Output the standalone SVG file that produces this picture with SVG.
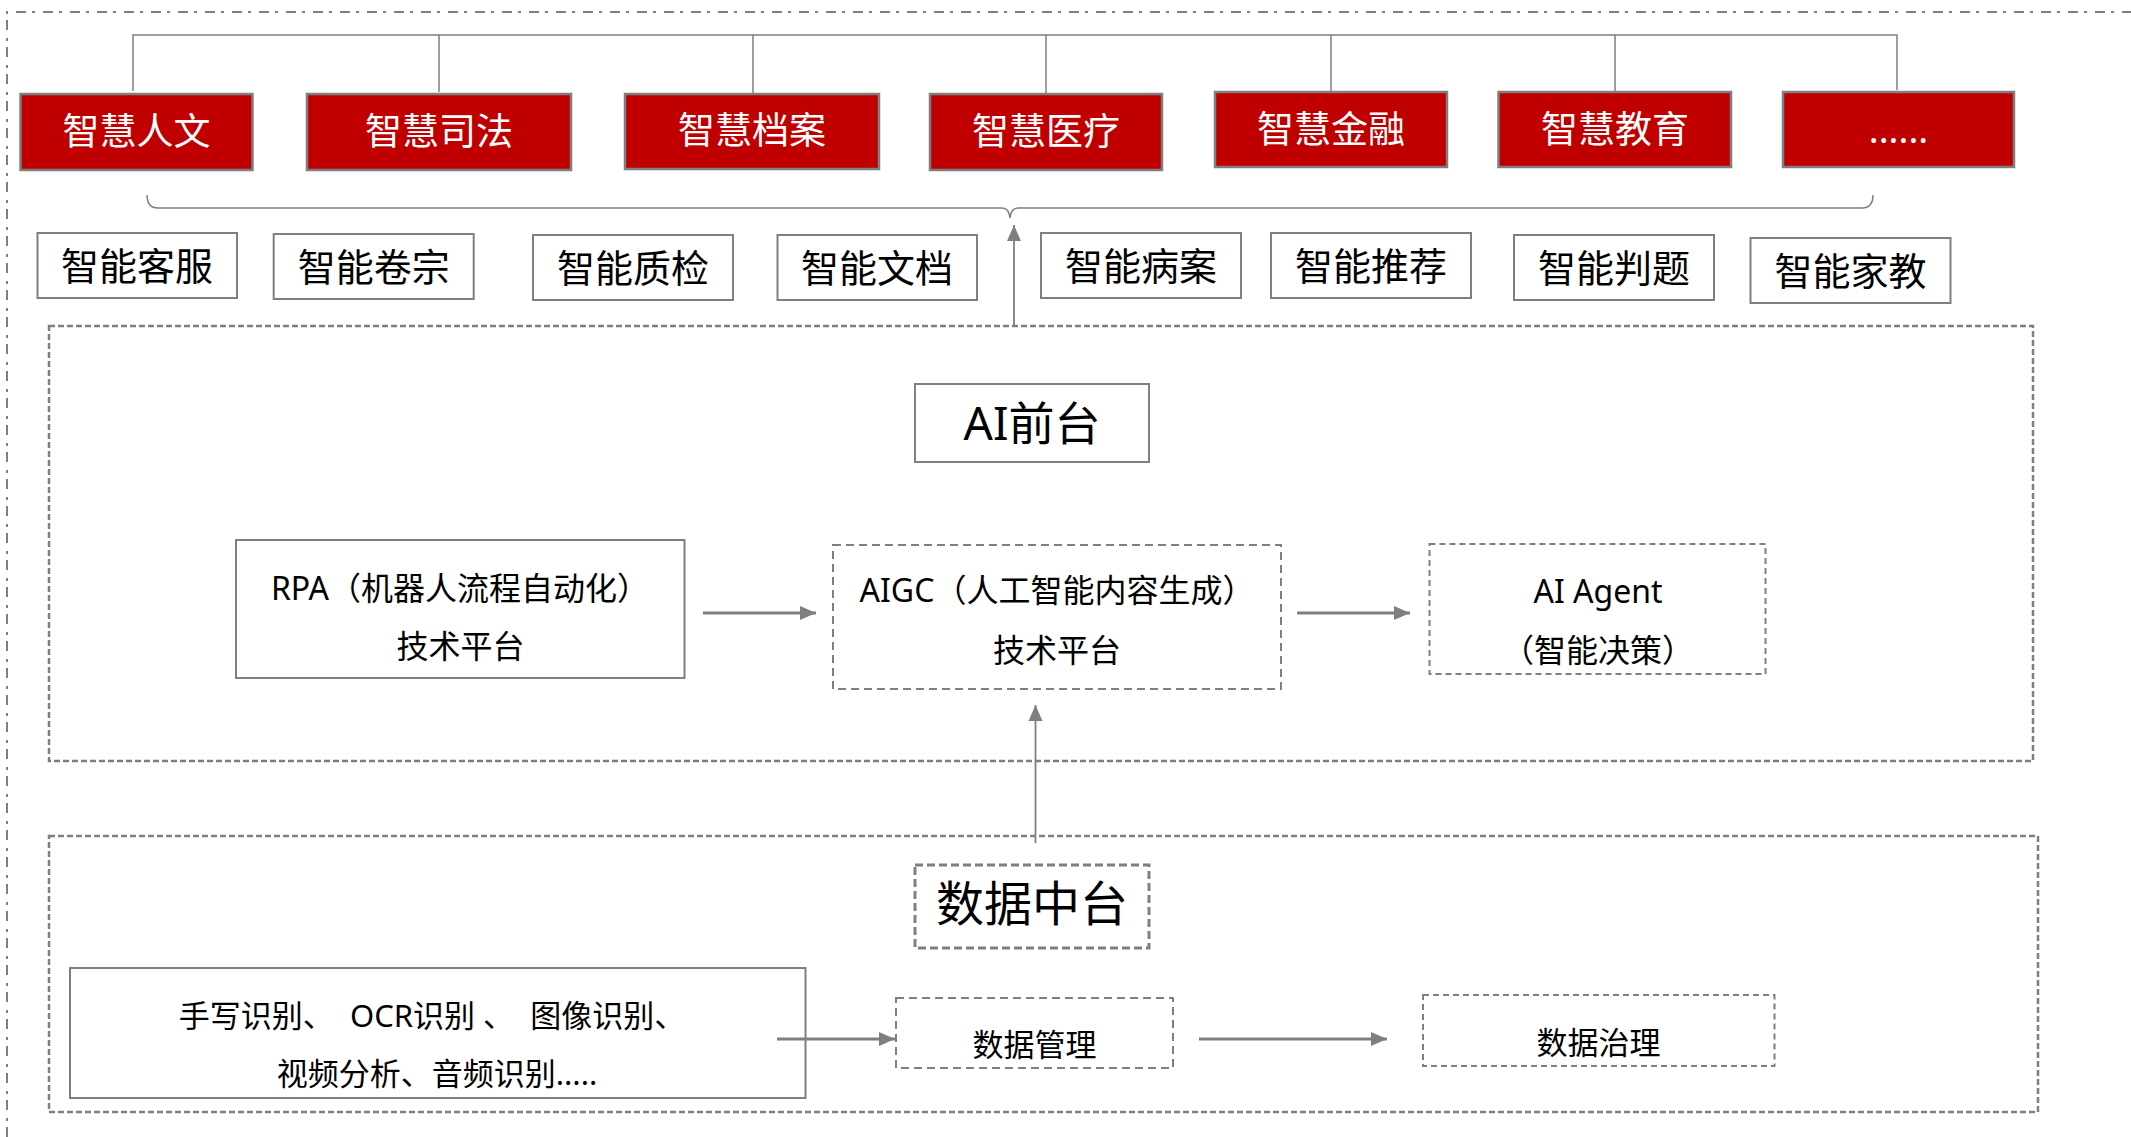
<svg xmlns="http://www.w3.org/2000/svg" width="2131" height="1137" viewBox="0 0 2131 1137">
<defs>
<style>
text{font-family:"Noto Sans","Noto Sans CJK SC",sans-serif;text-anchor:middle;fill:#000}
.red{fill:#C00000;stroke:#7f7f7f;stroke-width:2.5}
.redt{fill:#fff;font-size:37px}
.wbox{fill:#fff;stroke:#7f7f7f;stroke-width:2}
.wt{font-size:38px}
.frame{fill:none;stroke:#7f7f7f;stroke-width:2.5;stroke-dasharray:6 3}
.dlong{fill:none;stroke:#7f7f7f;stroke-width:2;stroke-dasharray:8 5}
.dshort{fill:none;stroke:#7f7f7f;stroke-width:2;stroke-dasharray:6 4}
.dthick{fill:none;stroke:#7f7f7f;stroke-width:3;stroke-dasharray:8 4}
.t32{font-size:32px}
.t31{font-size:31px}
.conn{fill:none;stroke:#7f7f7f;stroke-width:1.5}
.arr{fill:none;stroke:#7f7f7f;stroke-width:3}
.arrt{fill:none;stroke:#7f7f7f;stroke-width:1.8}
</style>
<marker id="ah" markerUnits="userSpaceOnUse" markerWidth="16" markerHeight="16" viewBox="0 0 16 16" refX="16" refY="8" orient="auto">
<path d="M0,1 L16,8 L0,15 z" fill="#7f7f7f"/>
</marker>
</defs>
<rect x="0" y="0" width="2131" height="1137" fill="#fff"/>
<path d="M7,1137 V12 H2131" fill="none" stroke="#7f7f7f" stroke-width="2" stroke-dasharray="10 6 3 8"/>

<g id="red1"><rect class="red" x="20.5" y="94" width="232" height="76"/><text class="redt" x="136.5" y="145">智慧人文</text></g>
<g id="red2"><rect class="red" x="307" y="94" width="264" height="76"/><text class="redt" x="439" y="145">智慧司法</text></g>
<g id="red3"><rect class="red" x="625" y="94" width="254" height="75"/><text class="redt" x="752" y="144">智慧档案</text></g>
<g id="red4"><rect class="red" x="930" y="94" width="232" height="76"/><text class="redt" x="1046" y="145">智慧医疗</text></g>
<g id="red5"><rect class="red" x="1215" y="92" width="232" height="75"/><text class="redt" x="1331" y="143">智慧金融</text></g>
<g id="red6"><rect class="red" x="1498.5" y="92" width="232.5" height="75"/><text class="redt" x="1615" y="143">智慧教育</text></g>
<g id="red7"><rect class="red" x="1783" y="92" width="231" height="75"/><text class="redt" x="1898.5" y="143">......</text></g>

<g id="w1"><rect class="wbox" x="37.5" y="233" width="199.5" height="65"/><text class="wt" x="137" y="279.5">智能客服</text></g>
<g id="w2"><rect class="wbox" x="273.7" y="234" width="200" height="65"/><text class="wt" x="373.7" y="280.5">智能卷宗</text></g>
<g id="w3"><rect class="wbox" x="533" y="235" width="200" height="65"/><text class="wt" x="633" y="281.5">智能质检</text></g>
<g id="w4"><rect class="wbox" x="777.5" y="235" width="199.5" height="65"/><text class="wt" x="877" y="281.5">智能文档</text></g>
<g id="w5"><rect class="wbox" x="1041" y="233" width="200" height="65"/><text class="wt" x="1141" y="279.5">智能病案</text></g>
<g id="w6"><rect class="wbox" x="1271" y="233" width="200" height="65"/><text class="wt" x="1371" y="279.5">智能推荐</text></g>
<g id="w7"><rect class="wbox" x="1514" y="235" width="200" height="65"/><text class="wt" x="1614" y="281.5">智能判题</text></g>
<g id="w8"><rect class="wbox" x="1750.5" y="238" width="200" height="65"/><text class="wt" x="1850.5" y="284.5">智能家教</text></g>

<g id="ai-frame"><rect class="frame" x="49" y="326" width="1984" height="435"/></g>
<g id="ai-front"><rect class="wbox" x="915" y="384" width="234" height="78"/><text x="1032" y="440" font-size="46px">AI前台</text></g>
<g id="rpa"><rect class="wbox" x="236" y="540" width="448.5" height="138"/><text class="t32" x="460" y="600">RPA（机器人流程自动化）</text><text class="t32" x="460.5" y="658">技术平台</text></g>
<g id="aigc"><rect class="dlong" x="833" y="545" width="448" height="144"/><text class="t32" x="1057" y="602">AIGC（人工智能内容生成）</text><text class="t32" x="1057" y="662">技术平台</text></g>
<g id="agent"><rect class="dshort" x="1429.5" y="544" width="336" height="130"/><text class="t32" x="1598" y="603">AI Agent</text><text class="t32" x="1598" y="662">（智能决策）</text></g>

<g id="data-frame"><rect class="frame" x="49" y="836" width="1989" height="276"/></g>
<g id="data-mid"><rect class="dthick" x="915" y="865" width="234" height="83"/><text x="1032" y="921" font-size="48px">数据中台</text></g>
<g id="recog"><rect class="wbox" x="70" y="968" width="735.5" height="130"/><text class="t31" x="432" y="1026.5" xml:space="preserve">手写识别、  OCR识别 、  图像识别、</text><text class="t31" x="437" y="1084.5">视频分析、音频识别.....</text></g>
<g id="data-mgmt"><rect class="dlong" x="896" y="998" width="277" height="70"/><text class="t31" x="1034.5" y="1055.5">数据管理</text></g>
<g id="data-gov"><rect class="dshort" x="1423" y="995" width="351.5" height="71"/><text class="t31" x="1598.5" y="1054">数据治理</text></g>

<g id="connectors">
<path class="conn" d="M133,91 V35 H1897 V90"/>
<path class="conn" d="M439,35 V92 M753,35 V93 M1046,35 V93 M1331,35 V91 M1615,35 V91"/>
<path class="conn" d="M147,195 Q147,208 158,208 H1002 Q1009,208 1010,218 Q1011,208 1018,208 H1862 Q1873,208 1873,195"/>
<path class="arrt" d="M1014,326 V225" marker-end="url(#ah)"/>
<path class="arr" d="M703,613 H816" marker-end="url(#ah)"/>
<path class="arr" d="M1297,613 H1410" marker-end="url(#ah)"/>
<path class="arrt" d="M1035.5,843 V705" marker-end="url(#ah)"/>
<path class="arr" d="M777,1039 H895" marker-end="url(#ah)"/>
<path class="arr" d="M1199,1039 H1387" marker-end="url(#ah)"/>
</g>
</svg>
